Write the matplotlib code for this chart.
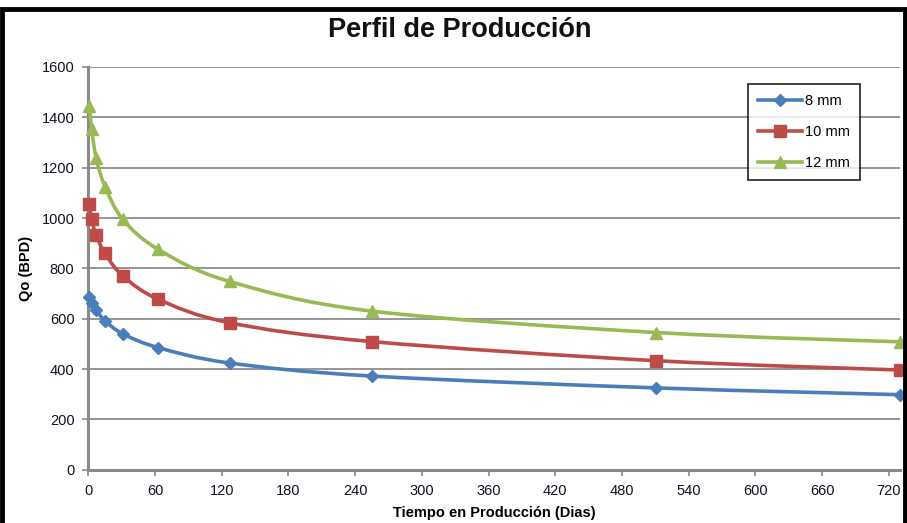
import matplotlib
matplotlib.use("Agg")
import matplotlib.pyplot as plt
from matplotlib.path import Path
from matplotlib.patches import PathPatch, Rectangle
from matplotlib.lines import Line2D
import numpy as np

plt.rcParams['font.family'] = ['Liberation Sans Narrow', 'Liberation Sans', 'DejaVu Sans']

days = [1, 3, 7, 15, 31, 63, 127, 255, 511, 730]
q_8mm = [687, 663, 634, 592, 540, 485, 424, 372, 325, 298]
q_10mm = [1055, 995, 933, 860, 770, 677, 584, 509, 433, 396]
q_12mm = [1445, 1355, 1240, 1125, 995, 875, 748, 630, 545, 508]
series_names = ["8 mm", "10 mm", "12 mm"]
x_ticks = list(range(0, 721, 60))
y_ticks = list(range(0, 1601, 200))

colors = ["#4a7ebb", "#be4b48", "#98b954"]
markers = ["D", "s", "^"]
msizes = [6.5, 8.5, 9]

fig = plt.figure(figsize=(9.07, 5.23), dpi=100)
ax = fig.add_axes([88.3/907, 1-469.7/523, (900-88.3)/907, (469.7-67)/523])

def smooth_path(x, y):
    P = np.column_stack([x, y]).astype(float)
    n = len(P)
    verts = [P[0]]
    codes = [Path.MOVETO]
    for i in range(n-1):
        p0 = P[i-1] if i > 0 else P[i]
        p1 = P[i]
        p2 = P[i+1]
        p3 = P[i+2] if i+2 < n else P[i+1]
        c1 = p1 + (p2 - p0)/6.0
        c2 = p2 - (p3 - p1)/6.0
        verts += [c1, c2, p2]
        codes += [Path.CURVE4]*3
    return Path(verts, codes)

for vals, c, m, ms, name in zip([q_8mm, q_10mm, q_12mm], colors, markers, msizes, series_names):
    ax.add_patch(PathPatch(smooth_path(days, vals), facecolor='none', edgecolor=c,
                           lw=2.6, zorder=3, clip_on=False))
    ax.plot(days, vals, linestyle='none', marker=m, color=c, markersize=ms,
            zorder=4, clip_on=False)

ax.set_xlim(0, 730)
ax.set_ylim(0, 1600)
ax.set_xticks(x_ticks)
ax.set_yticks(y_ticks)
ax.yaxis.grid(True, color='#8c8c8c', lw=1.3)
ax.set_axisbelow(True)
for s in ['top', 'right']:
    ax.spines[s].set_visible(False)
for s in ['left', 'bottom']:
    ax.spines[s].set_color('#8a8a8a')
    ax.spines[s].set_linewidth(2.2)
ax.tick_params(axis='both', colors='#8a8a8a', length=4, width=1.2, labelsize=10.5,
               labelcolor='#111122', direction='out')
ax.tick_params(axis='y', pad=6)
ax.tick_params(axis='x', pad=6)

ax.set_xlabel("Tiempo en Producción (Dias)", fontsize=10.5, fontweight='bold', labelpad=6)
ax.set_ylabel("Qo (BPD)", fontsize=10.5, fontweight='bold', labelpad=6)

fig.text(460/907, 1-30/523, "Perfil de Producción", ha='center', va='center',
         fontsize=19.5, fontweight='bold', color='#111111')

handles = [Line2D([0], [0], color=c, marker=m, markersize=ms*0.95, lw=2.6)
           for c, m, ms in zip(colors, markers, msizes)]
leg = ax.legend(handles, series_names, loc='upper left',
                bbox_to_anchor=((748-88.3)/(900-88.3), (469.7-84)/(469.7-67)),
                frameon=True, fancybox=False, edgecolor='black', fontsize=10.5,
                handlelength=3.0, handletextpad=0.2, labelspacing=1.15,
                borderpad=0.7, borderaxespad=0)
leg.get_frame().set_linewidth(1.3)

fig.patches.append(Rectangle((2/907, -0.1), (905-2)/907, 1.1 - 9/523,
                             transform=fig.transFigure, fill=False,
                             edgecolor='black', lw=3.5))

fig.savefig("out.png", dpi=100)
